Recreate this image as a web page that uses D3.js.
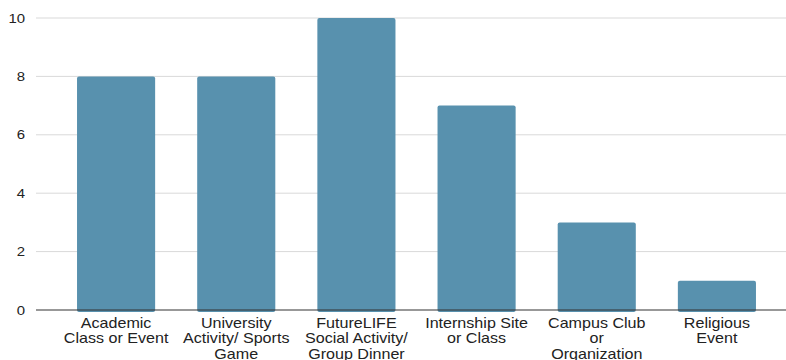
<!DOCTYPE html>
<html><head><meta charset="utf-8">
<script src="https://cdn.jsdelivr.net/npm/d3@7"></script>
<style>body{margin:0;background:#fff}svg{display:block}</style>
</head><body><svg id="c" width="786" height="360"></svg>
<script>
const categories = [
  ["Academic","Class or Event"],
  ["University","Activity/ Sports","Game"],
  ["FutureLIFE","Social Activity/","Group Dinner"],
  ["Internship Site","or Class"],
  ["Campus Club","or","Organization"],
  ["Religious","Event"]
];
const values = [8, 8, 10, 7, 3, 1];
const yTicks = [0, 2, 4, 6, 8, 10];

const svg = d3.select("#c");
const font = "Liberation Sans, Arial, sans-serif";
const stretch = 1.15;
const x = d3.scaleBand().domain(d3.range(values.length)).range([56, 777]).paddingInner(0.35).paddingOuter(0.175);
const y = d3.scaleLinear().domain([0, 10]).range([310, 18]);

// gridlines
svg.append("g").selectAll("line").data(yTicks.filter(d => d > 0)).join("line")
  .attr("x1", 36).attr("x2", 786).attr("y1", d => y(d)).attr("y2", d => y(d))
  .attr("stroke", "#d9d9d9").attr("stroke-width", 1);

// y labels
svg.append("g").selectAll("g").data(yTicks).join("g")
  .attr("transform", d => `translate(25,${y(d)}) scale(${stretch},1)`)
  .append("text").attr("dy", "0.35em").attr("text-anchor", "end")
  .attr("font-family", font).attr("font-size", 13).attr("fill", "#222").text(d => d);

// bars
svg.append("g").selectAll("rect").data(values).join("rect")
  .attr("x", (d, i) => x(i)).attr("width", x.bandwidth())
  .attr("y", d => y(d)).attr("height", d => y(0) - y(d) + 2)
  .attr("rx", 2).attr("fill", "#5891ae");

// baseline
svg.append("line").attr("x1", 36).attr("x2", 786).attr("y1", y(0)).attr("y2", y(0))
  .attr("stroke", "#333").attr("stroke-width", 1.2);

// x labels
const lab = svg.append("g").selectAll("g").data(categories).join("g")
  .attr("transform", (d, i) => `translate(${x(i) + x.bandwidth() / 2},328) scale(${stretch},1)`)
  .append("text").attr("text-anchor", "middle").attr("font-family", font)
  .attr("font-size", 14).attr("fill", "#222");
lab.selectAll("tspan").data(d => d).join("tspan")
  .attr("x", 0).attr("dy", (d, i) => i === 0 ? 0 : 15.5).text(d => d);
</script></body></html>
